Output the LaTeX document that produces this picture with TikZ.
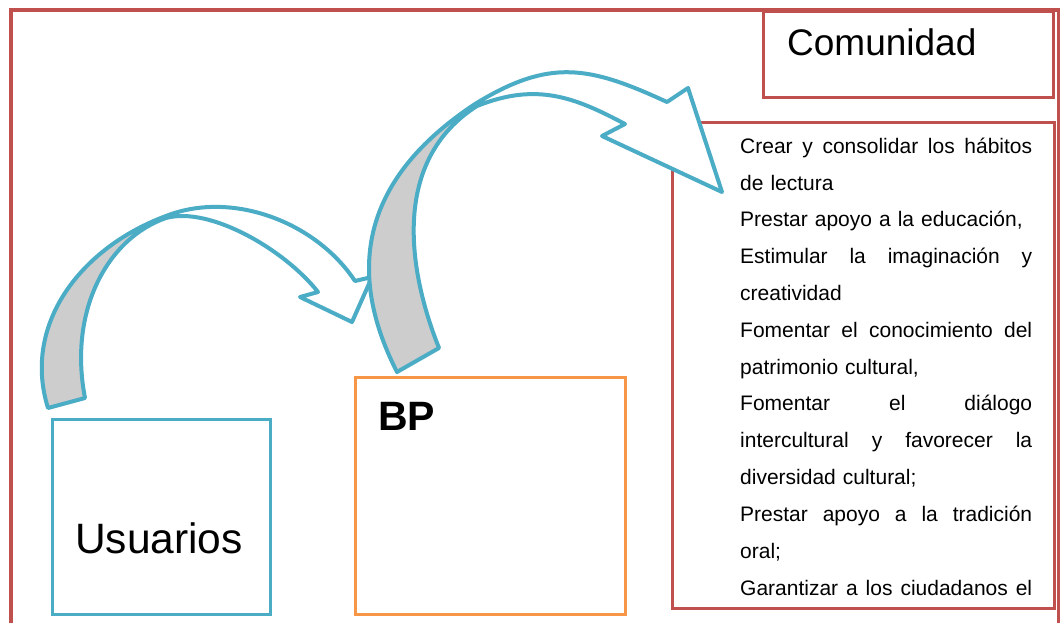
\documentclass[tikz,border=0pt]{standalone}
\usepackage{fontspec}
\setmainfont{Liberation Sans}
\definecolor{rojo}{HTML}{C0504D}
\definecolor{azul}{HTML}{4BACC6}
\definecolor{naranja}{HTML}{F79646}
\definecolor{gris}{HTML}{CDCDCD}
\newcommand{\jline}[1]{\leavevmode\hbox to 292pt{#1}}
\tikzset{
  caja/.style={draw=#1, line width=3pt, inner sep=0pt, rectangle},
  flecha/.style={draw=azul, line width=4pt, line join=round},
  rotulo/.style={inner sep=0pt, anchor=base west},
}
\begin{document}
\begin{tikzpicture}[x=1pt,y=-1pt]
\useasboundingbox (0,0) rectangle (1060,622);
\fill[white] (0,0) rectangle (1060,622);
% outer frame
\draw[rojo, line width=4pt] (11,626) -- (11,10) -- (1059,10) -- (1059,626);
% boxes
\node[caja=azul, minimum width=218pt, minimum height=195pt] (usuarios) at (161,516.5) {};
\node[caja=naranja, minimum width=270pt, minimum height=237pt] (bp) at (490,495.5) {};
\node[caja=rojo, minimum width=382pt, minimum height=486pt] (lista) at (863,365) {};
\node[caja=rojo, minimum width=290pt, minimum height=86pt] (comunidad) at (908,54) {};
% arrow 1 (Usuarios -> BP)
\fill[gris] (48,408) .. controls (22,325) and (80,248) .. (166,216)
  .. controls (232,190) and (316,222) .. (355,281)
  -- (372,277) -- (352,322) -- (300,297) -- (318,292)
  .. controls (285,250) and (210,206) .. (166,218)
  .. controls (108,238) and (68,310) .. (85,398) -- cycle;
\fill[white] (166,216)
  .. controls (232,190) and (316,222) .. (355,281)
  -- (372,277) -- (352,322) -- (300,297) -- (318,292)
  .. controls (285,250) and (210,206) .. (166,218) -- cycle;
\draw[flecha] (48,408) .. controls (22,325) and (80,248) .. (166,216)
  .. controls (232,190) and (316,222) .. (355,281)
  -- (372,277) -- (352,322) -- (300,297) -- (318,292)
  .. controls (285,250) and (210,206) .. (166,218)
  .. controls (108,238) and (68,310) .. (85,398) -- cycle;
% arrow 2 (BP -> Comunidad)
\fill[gris] (397,372) .. controls (340,260) and (372,172) .. (475,104)
  .. controls (550,58) and (589,66) .. (667,102)
  -- (688,88) -- (722,192) -- (602,136) -- (625,124)
  .. controls (575,97.5) and (537,82) .. (477,106)
  .. controls (392,160) and (407,268) .. (439,348) -- cycle;
\fill[white] (475,104)
  .. controls (550,58) and (589,66) .. (667,102)
  -- (688,88) -- (722,192) -- (602,136) -- (625,124)
  .. controls (575,97.5) and (537,82) .. (477,106) -- cycle;
\draw[flecha] (397,372) .. controls (340,260) and (372,172) .. (475,104)
  .. controls (550,58) and (589,66) .. (667,102)
  -- (688,88) -- (722,192) -- (602,136) -- (625,124)
  .. controls (575,97.5) and (537,82) .. (477,106)
  .. controls (392,160) and (407,268) .. (439,348) -- cycle;
% texts
\node[rotulo, font=\fontsize{37pt}{44pt}\selectfont] (tcom) at (787,55) {Comunidad};
\node[rotulo, font=\fontsize{42.5pt}{50pt}\selectfont] (tusu) at (75,553) {Usuarios};
\node[rotulo, font=\fontsize{41pt}{48pt}\selectfont\bfseries] (tbp) at (378,430) {BP};
\node[inner sep=0pt, anchor=north west, text width=292pt, align=left,
      font=\fontsize{21pt}{36.83pt}\selectfont] (tlista) at (740,127.2)
{\strut\jline{Crear\hfill y\hfill consolidar\hfill los\hfill hábitos}\\
de lectura\\
Prestar apoyo a la educación,\\
\jline{Estimular\hfill la\hfill imaginación\hfill y}\\
creatividad\\
\jline{Fomentar\hfill el\hfill conocimiento\hfill del}\\
patrimonio cultural,\\
\jline{Fomentar\hfill el\hfill diálogo}\\
\jline{intercultural\hfill y\hfill favorecer\hfill la}\\
diversidad cultural;\\
\jline{Prestar\hfill apoyo\hfill a\hfill la\hfill tradición}\\
oral;\\
\jline{Garantizar\hfill a\hfill los\hfill ciudadanos\hfill el}};
\end{tikzpicture}
\end{document}
